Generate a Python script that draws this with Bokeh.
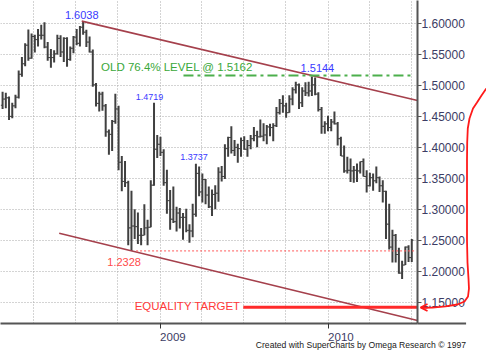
import pandas as pd
from bokeh.plotting import figure
from bokeh.models import (ColumnDataSource, Range1d, FixedTicker, NumeralTickFormatter,
                          DatetimeTickFormatter, Arrow, OpenHead, GridBox, Column)
from bokeh.core.properties import value
from bokeh.embed import file_html
from bokeh.resources import INLINE

FONT = "Liberation Sans"

# ---------------- data (weekly OHLC, week ending Friday) ----------------
bar_dates = pd.date_range("2008-01-25", periods=128, freq="7D")
opens = [1.4680, 1.4780, 1.4800, 1.4500, 1.4670, 1.4810, 1.5180, 1.5350, 1.5650, 1.5440,
         1.5790, 1.5740, 1.5810, 1.5810, 1.5620, 1.5450, 1.5450, 1.5510, 1.5760, 1.5540,
         1.5760, 1.5420, 1.5600, 1.5780, 1.5680, 1.5940, 1.5860, 1.5700, 1.5540, 1.5010,
         1.4710, 1.4860, 1.4670, 1.4250, 1.4210, 1.4420, 1.4620, 1.3760, 1.3450, 1.3430,
         1.2700, 1.2730, 1.2720, 1.2580, 1.2580, 1.2700, 1.2710, 1.3390, 1.3970, 1.4050,
         1.3920, 1.3430, 1.3140, 1.2840, 1.2800, 1.2940, 1.2870, 1.2870, 1.2660, 1.2650,
         1.2920, 1.3580, 1.3280, 1.3480, 1.3230, 1.3040, 1.3240, 1.3260, 1.3600, 1.3530,
         1.3980, 1.4160, 1.3950, 1.4000, 1.3980, 1.4110, 1.3970, 1.4030, 1.4140, 1.4190,
         1.4170, 1.4180, 1.4200, 1.4330, 1.4320, 1.4350, 1.4560, 1.4710, 1.4670, 1.4560,
         1.4780, 1.4930, 1.5010, 1.4720, 1.4910, 1.4880, 1.4910, 1.5010, 1.4860, 1.4610,
         1.4340, 1.4380, 1.4320, 1.4410, 1.4380, 1.4140, 1.3860, 1.3620, 1.3630, 1.3620,
         1.3630, 1.3620, 1.3770, 1.3530, 1.3380, 1.3510, 1.3460, 1.3510, 1.3380, 1.3290,
         1.2760, 1.2390, 1.2580, 1.2270, 1.1970, 1.2100, 1.2390, 1.2220]
highs = [1.4900, 1.4880, 1.4820, 1.4720, 1.4850, 1.5240, 1.5460, 1.5680, 1.5904, 1.5840,
         1.5820, 1.5910, 1.5980, 1.6019, 1.5700, 1.5590, 1.5570, 1.5820, 1.5810, 1.5780,
         1.5780, 1.5630, 1.5800, 1.5910, 1.5960, 1.6038, 1.5900, 1.5790, 1.5580, 1.5040,
         1.4900, 1.4900, 1.4700, 1.4290, 1.4440, 1.4866, 1.4670, 1.3860, 1.3780, 1.3460,
         1.3300, 1.3000, 1.2950, 1.2700, 1.3080, 1.2830, 1.3470, 1.4719, 1.4200, 1.4170,
         1.3970, 1.3640, 1.3310, 1.3370, 1.3040, 1.3020, 1.2940, 1.3010, 1.2760, 1.3090,
         1.3737, 1.3690, 1.3580, 1.3490, 1.3370, 1.3320, 1.3390, 1.3680, 1.3700, 1.4050,
         1.4170, 1.4340, 1.4120, 1.4060, 1.4160, 1.4180, 1.4120, 1.4200, 1.4330, 1.4270,
         1.4450, 1.4390, 1.4360, 1.4380, 1.4390, 1.4650, 1.4780, 1.4840, 1.4720, 1.4840,
         1.4970, 1.5060, 1.5030, 1.4970, 1.5050, 1.5060, 1.5144, 1.5130, 1.4890, 1.4650,
         1.4420, 1.4510, 1.4460, 1.4580, 1.4410, 1.4170, 1.4030, 1.3850, 1.3820, 1.3700,
         1.3740, 1.3770, 1.3820, 1.3630, 1.3590, 1.3580, 1.3690, 1.3530, 1.3470, 1.3300,
         1.3090, 1.2670, 1.2600, 1.2380, 1.2170, 1.2400, 1.2420, 1.2520]
lows = [1.4620, 1.4630, 1.4440, 1.4470, 1.4630, 1.4790, 1.5140, 1.5310, 1.5400, 1.5430,
        1.5530, 1.5630, 1.5740, 1.5600, 1.5400, 1.5285, 1.5370, 1.5500, 1.5460, 1.5380,
        1.5300, 1.5400, 1.5520, 1.5650, 1.5630, 1.5820, 1.5620, 1.5530, 1.4980, 1.4660,
        1.4580, 1.4590, 1.4170, 1.3880, 1.3940, 1.4380, 1.3630, 1.3290, 1.3360, 1.2420,
        1.2328, 1.2520, 1.2440, 1.2420, 1.2580, 1.2420, 1.2710, 1.3380, 1.3830, 1.3860,
        1.3380, 1.2930, 1.2670, 1.2780, 1.2640, 1.2690, 1.2510, 1.2630, 1.2460, 1.2550,
        1.2880, 1.3210, 1.3110, 1.3080, 1.3020, 1.2890, 1.3000, 1.3120, 1.3450, 1.3490,
        1.3850, 1.3900, 1.3860, 1.3750, 1.3850, 1.3960, 1.3850, 1.3970, 1.4100, 1.4000,
        1.4160, 1.4100, 1.4050, 1.4180, 1.4100, 1.4330, 1.4530, 1.4560, 1.4480, 1.4560,
        1.4680, 1.4870, 1.4620, 1.4650, 1.4830, 1.4820, 1.4830, 1.4840, 1.4580, 1.4220,
        1.4220, 1.4260, 1.4260, 1.4370, 1.4030, 1.3860, 1.3590, 1.3580, 1.3440, 1.3430,
        1.3440, 1.3580, 1.3530, 1.3270, 1.3370, 1.3300, 1.3420, 1.3280, 1.3110, 1.2520,
        1.2350, 1.2140, 1.2140, 1.1960, 1.1876, 1.2100, 1.2150, 1.2150]
closes = [1.4780, 1.4800, 1.4500, 1.4670, 1.4810, 1.5180, 1.5350, 1.5650, 1.5440, 1.5790,
          1.5740, 1.5810, 1.5810, 1.5620, 1.5450, 1.5450, 1.5510, 1.5760, 1.5540, 1.5760,
          1.5420, 1.5600, 1.5780, 1.5680, 1.5940, 1.5860, 1.5700, 1.5540, 1.5010, 1.4710,
          1.4860, 1.4670, 1.4250, 1.4210, 1.4420, 1.4620, 1.3760, 1.3450, 1.3430, 1.2700,
          1.2730, 1.2720, 1.2580, 1.2580, 1.2700, 1.2710, 1.3390, 1.3970, 1.4050, 1.3920,
          1.3430, 1.3140, 1.2840, 1.2800, 1.2940, 1.2870, 1.2870, 1.2660, 1.2650, 1.2920,
          1.3580, 1.3280, 1.3480, 1.3230, 1.3040, 1.3240, 1.3260, 1.3600, 1.3530, 1.3980,
          1.4160, 1.3950, 1.4000, 1.3980, 1.4110, 1.3970, 1.4030, 1.4140, 1.4190, 1.4170,
          1.4180, 1.4200, 1.4330, 1.4320, 1.4350, 1.4560, 1.4710, 1.4670, 1.4560, 1.4780,
          1.4930, 1.5010, 1.4720, 1.4910, 1.4880, 1.4910, 1.5010, 1.4860, 1.4610, 1.4340,
          1.4380, 1.4320, 1.4410, 1.4380, 1.4140, 1.3860, 1.3620, 1.3630, 1.3620, 1.3630,
          1.3620, 1.3770, 1.3530, 1.3380, 1.3510, 1.3460, 1.3510, 1.3380, 1.3290, 1.2760,
          1.2390, 1.2580, 1.2270, 1.1970, 1.2100, 1.2390, 1.2220, 1.2500]

price_ticks = [1.15, 1.20, 1.25, 1.30, 1.35, 1.40, 1.45, 1.50, 1.55, 1.60]
year_ticks = ["2009-01-01", "2010-01-01"]
year_label_pos = ["2009-01-29", "2010-01-29"]
quarter_grid = ["2008-04-01", "2008-07-01", "2008-10-01", "2009-01-01", "2009-04-01",
                "2009-07-01", "2009-10-01", "2010-01-01", "2010-04-01", "2010-07-01"]

# annotation lines (date, price)
upper_trend_start = ("2008-07-15", 1.6038)
upper_trend_end_price = 1.4757
lower_trend_start = ("2008-05-27", 1.2614)
lower_trend_end_price = 1.1205
fib_dates = ["2009-02-21", "2010-07-02"]
fib_level = 1.5162
low_dates = ["2008-11-10", "2010-07-09"]
low_level = 1.2328
target_start = "2009-07-01"
target_level = 1.1420

brace_dates = ["2010-12-11", "2010-11-30 12:00", "2010-11-20 17:00", "2010-11-12",
               "2010-11-04 10:00", "2010-10-31 17:00", "2010-10-30 10:00", "2010-10-30",
               "2010-10-30", "2010-10-30", "2010-10-31 02:00", "2010-11-02 06:00",
               "2010-11-03 07:00", "2010-11-01 05:00", "2010-10-24 14:00", "2010-10-09 08:00",
               "2010-09-13 07:00", "2010-08-16", "2010-07-23 02:00"]
brace_prices = [1.4951, 1.4838, 1.4724, 1.4628, 1.4466, 1.4305, 1.4079, 1.3788, 1.3142,
                1.2496, 1.2141, 1.1883, 1.1721, 1.1592, 1.1511, 1.1463, 1.1431, 1.1414,
                1.1410]
arrow_from, arrow_to = "2010-08-05 05:00", "2010-07-21"
arrow_level = 1.1414
frame_ext_end = "2010-10-28"
credit_pos = ("2010-10-28", 1.0801)


def ms(d):
    return pd.Timestamp(d).value / 1e6


# ---------------- layout / scale calibration ----------------
W, H = 486, 363
FW, FH = 417, 323                 # plot frame size (top-left at canvas origin)
BR, BB = W - FW, H - FH
ms_per_px = (ms("2010-01-01") - ms("2009-01-01")) / 168.0
x0 = ms("2009-01-01") - 159.5 * ms_per_px
x1 = x0 + FW * ms_per_px
px_per_unit = 278.7 / 0.45
y_hi = 1.60 + 23 / px_per_unit
y_lo = y_hi - FH / px_per_unit

p = figure(width=W, height=H, x_axis_type="datetime", y_axis_location="right",
           x_range=Range1d(x0, x1), y_range=Range1d(y_lo, y_hi),
           toolbar_location=None, output_backend="svg",
           min_border_left=0, min_border_top=0, min_border_right=BR, min_border_bottom=BB)
p.outline_line_color = None
p.background_fill_color = "white"
p.border_fill_color = "white"

AX = "#555555"
LAB = "#3c3c64"

# y axis (right)
p.yaxis.ticker = FixedTicker(ticks=price_ticks, minor_ticks=[])
p.yaxis.formatter = NumeralTickFormatter(format="0.00000")
p.yaxis.axis_line_width = 2
p.yaxis.axis_line_color = AX
p.yaxis.major_tick_out = 4
p.yaxis.major_tick_in = 0
p.yaxis.major_tick_line_color = AX
p.yaxis.minor_tick_out = 0
p.yaxis.major_label_standoff = 0
p.yaxis.major_label_text_font = FONT
p.yaxis.major_label_text_font_size = "12px"
p.yaxis.major_label_text_color = LAB

# x axis (below)
p.xaxis.ticker = FixedTicker(ticks=[ms(d) for d in year_label_pos],
                             minor_ticks=[ms(d) for d in year_ticks])
p.xaxis.formatter = DatetimeTickFormatter(years="%Y", months="%Y", days="%Y", hours="%Y",
                                          hourmin="%Y", minutes="%Y", minsec="%Y",
                                          seconds="%Y", milliseconds="%Y",
                                          microseconds="%Y")
p.xaxis.axis_line_width = 2
p.xaxis.axis_line_color = AX
p.xaxis.major_tick_out = 0
p.xaxis.major_tick_in = 0
p.xaxis.minor_tick_out = 5
p.xaxis.minor_tick_in = 0
p.xaxis.minor_tick_line_color = "#333333"
p.xaxis.major_label_standoff = 4
p.xaxis.major_label_text_font = FONT
p.xaxis.major_label_text_font_size = "11.5px"
p.xaxis.major_label_text_color = LAB

# grids
p.xgrid.ticker = FixedTicker(ticks=[ms(d) for d in quarter_grid])
for g in (p.xgrid, p.ygrid):
    g.grid_line_color = "#a8a8a8"
    g.grid_line_dash = "1 2"
    g.grid_line_width = 1

# OHLC bars
src = ColumnDataSource(dict(date=bar_dates, left=bar_dates - pd.Timedelta(days=4),
                            right=bar_dates + pd.Timedelta(days=4),
                            open=opens, high=highs, low=lows, close=closes))
BAR = "#404040"
p.segment(x0="date", y0="low", x1="date", y1="high", source=src, line_color=BAR, line_width=2)
p.segment(x0="left", y0="open", x1="date", y1="open", source=src, line_color=BAR, line_width=1)
p.segment(x0="date", y0="close", x1="right", y1="close", source=src, line_color=BAR, line_width=1)

# trend lines (run to the right edge of the frame)
TREND = "#a5404c"
p.line(x=[ms(upper_trend_start[0]), x1], y=[upper_trend_start[1], upper_trend_end_price],
       line_color=TREND, line_width=1.6)
p.line(x=[ms(lower_trend_start[0]), x1], y=[lower_trend_start[1], lower_trend_end_price],
       line_color=TREND, line_width=1.6)

# horizontal levels
p.line(x=[ms(d) for d in fib_dates], y=[fib_level] * 2, line_color="#4caf4c", line_width=2,
       line_dash="10 4 3 4")
p.line(x=[ms(d) for d in low_dates], y=[low_level] * 2, line_color="#ff5a5a", line_width=1,
       line_dash="2 2")
p.line(x=[ms(target_start), x1], y=[target_level] * 2, line_color="#ff2a2a", line_width=3)

# texts
BLUE = "#3a3aff"
p.text(x=[ms("2008-07-15"), ms("2009-12-09")], y=[1.6137, 1.5282], text=["1.6038", "1.5144"],
       text_font=value(FONT), text_font_size=value("11px"), text_color=BLUE,
       text_align="center", text_baseline="middle")
p.text(x=[ms("2008-12-09"), ms("2009-03-16")], y=[1.4813, 1.3841], text=["1.4719", "1.3737"],
       text_font=value(FONT), text_font_size=value("9px"), text_color=BLUE,
       text_align="center", text_baseline="middle")
p.text(x=[ms("2008-10-15")], y=[1.2153], text=["1.2328"],
       text_font=value(FONT), text_font_size=value("11px"), text_color="#ff4a4a",
       text_align="center", text_baseline="middle")
p.text(x=[ms("2008-08-26")], y=[1.5290], text=["OLD 76.4% LEVEL @ 1.5162"],
       text_font=value(FONT), text_font_size=value("11.5px"), text_color="#3aa83a",
       text_align="left", text_baseline="middle")
p.text(x=[ms("2008-11-07")], y=[1.1431], text=["EQUALITY TARGET"],
       text_font=value(FONT), text_font_size=value("11.5px"), text_color="#ff3a3a",
       text_align="left", text_baseline="middle")

# ---------- transparent overlay with the same data scales, covering the whole canvas ----------
q = figure(width=W, height=H, x_range=Range1d(x0, x0 + W * ms_per_px),
           y_range=Range1d(y_hi - H / px_per_unit, y_hi),
           toolbar_location=None, output_backend="svg", min_border=0,
           x_axis_location=None, y_axis_location=None)
q.outline_line_color = None
q.background_fill_alpha = 0
q.border_fill_alpha = 0
q.grid.visible = False

RED = "#ff1a1a"
q.line(x=[ms(d) for d in brace_dates], y=brace_prices, line_color=RED, line_width=1.8)
q.add_layout(Arrow(x_start=ms(arrow_from), y_start=arrow_level, x_end=ms(arrow_to), y_end=arrow_level,
                   line_color=RED, line_width=1.8,
                   end=OpenHead(size=7, line_color=RED, line_width=1.8)))
q.line(x=[x1, ms(frame_ext_end)], y=[y_lo, y_lo], line_color=AX, line_width=2)
q.text(x=[ms(credit_pos[0])], y=[credit_pos[1]],
       text=["Created with SuperCharts by Omega Research © 1997"],
       text_font=value(FONT), text_font_size=value("8.6px"),
       text_color="#202020", text_align="right", text_baseline="middle")

layout = GridBox(children=[(p, 0, 0), (Column(children=[q]), 0, 0)])

open("out.html", "w").write(file_html(layout, INLINE))
